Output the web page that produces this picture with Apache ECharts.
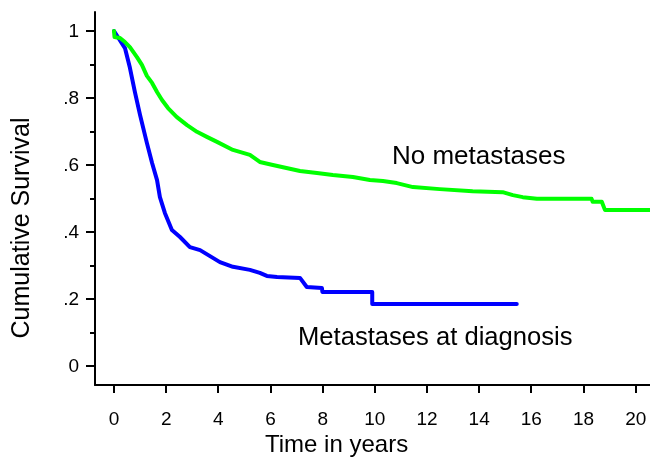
<!DOCTYPE html>
<html>
<head>
<meta charset="utf-8">
<script src="https://cdn.jsdelivr.net/npm/echarts@6/dist/echarts.min.js"></script>
<style>html,body{margin:0;padding:0;background:#fff}#c{width:650px;height:460px}</style>
</head>
<body>
<div id="c"></div>
<script>
// Tick values and labels
const xTicks = [0, 2, 4, 6, 8, 10, 12, 14, 16, 18, 20];
const xTickLabels = ['0', '2', '4', '6', '8', '10', '12', '14', '16', '18', '20'];
const yTicks = [0, 0.2, 0.4, 0.6, 0.8, 1];
const yTickLabels = ['0', '.2', '.4', '.6', '.8', '1'];
const yMinorTicks = [0.1, 0.3, 0.5, 0.7, 0.9];

// Series names
const seriesNames = ['Metastases at diagnosis', 'No metastases'];

// Cumulative survival: [time in years, survival]
const metastasesAtDiagnosis = [
  [0, 1], [0.42, 0.949], [0.61, 0.89], [0.8, 0.818], [1.0, 0.749], [1.26, 0.666],
  [1.46, 0.606], [1.65, 0.555], [1.76, 0.504], [1.95, 0.457], [2.22, 0.406],
  [2.53, 0.385], [2.91, 0.355], [3.3, 0.346], [3.68, 0.328], [4.06, 0.31],
  [4.56, 0.296], [5.21, 0.287], [5.59, 0.278], [5.86, 0.269], [6.25, 0.266],
  [7.13, 0.263], [7.39, 0.236], [7.97, 0.233], [7.99, 0.221], [9.9, 0.221],
  [9.9, 0.185], [15.44, 0.185]
];
const noMetastases = [
  [0, 1.0], [0.02, 0.982], [0.23, 0.979], [0.42, 0.967], [0.61, 0.952], [0.88, 0.922],
  [1.07, 0.899], [1.26, 0.866], [1.46, 0.845], [1.65, 0.818], [1.84, 0.794],
  [2.07, 0.77], [2.41, 0.743], [2.8, 0.719], [3.18, 0.699], [3.56, 0.684],
  [3.95, 0.669], [4.56, 0.645], [5.21, 0.63], [5.59, 0.609], [6.09, 0.6],
  [7.13, 0.582], [7.78, 0.576], [8.39, 0.57], [9.16, 0.564], [9.81, 0.555],
  [10.31, 0.552], [10.84, 0.546], [11.46, 0.534], [12.49, 0.528], [13.75, 0.522],
  [14.9, 0.519], [15.29, 0.51], [15.67, 0.504], [16.21, 0.499], [18.31, 0.499],
  [18.35, 0.49], [18.7, 0.49], [18.82, 0.466], [20.6, 0.466]
];

const FONT = 'Liberation Sans, Arial, sans-serif';
// plot frame: axis lines at x=95 / y=385; time 0 at x=114, 20 at x=635.7; S=0 at y=366, S=1 at y=31
const PX_PER_YEAR = 26.085, PX_PER_UNIT = 335, PAD = 19;
const XMIN = -PAD / PX_PER_YEAR, XMAX = (650 - 95 - PAD) / PX_PER_YEAR;
const YMIN = -PAD / PX_PER_UNIT, YMAX = 1 + PAD / PX_PER_UNIT;
const hidden = {show: false};

const textGraphics = [
  {type: 'text', left: 392, top: 144, style: {text: seriesNames[1], font: '26px ' + FONT, fill: '#000'}},
  {type: 'text', left: 298, top: 325, style: {text: seriesNames[0], font: '25.6px ' + FONT, fill: '#000'}},
  {type: 'text', left: 265, top: 433, style: {text: 'Time in years', font: '24px ' + FONT, fill: '#000'}},
  {type: 'text', x: 22, y: 228, rotation: Math.PI / 2,
    style: {text: 'Cumulative Survival', font: '25px ' + FONT, fill: '#000', align: 'center', verticalAlign: 'middle'}}
];

const chart = echarts.init(document.getElementById('c'), null, {renderer: 'canvas'});
chart.setOption({
  animation: false,
  backgroundColor: '#fff',
  grid: {left: 95, top: 12, width: 650 - 95, height: 385 - 12, containLabel: false, outerBoundsMode: 'none'},
  xAxis: {
    type: 'value', min: XMIN, max: XMAX, position: 'bottom',
    splitLine: hidden, axisTick: hidden, axisLabel: hidden,
    axisLine: {show: true, onZero: false, lineStyle: {color: '#000', width: 2}}
  },
  yAxis: {
    type: 'value', min: YMIN, max: YMAX, position: 'left',
    splitLine: hidden, axisTick: hidden, axisLabel: hidden,
    axisLine: {show: true, onZero: false, lineStyle: {color: '#000', width: 2}}
  },
  series: [{
    name: seriesNames[0], type: 'line', data: metastasesAtDiagnosis,
    showSymbol: false, clip: true,
    lineStyle: {color: '#0000ff', width: 4, cap: 'round', join: 'round'}
  }, {
    name: seriesNames[1], type: 'line', data: noMetastases,
    showSymbol: false, clip: true,
    lineStyle: {color: '#00ff00', width: 4, cap: 'round', join: 'round'}
  }],
  graphic: textGraphics
});

// Ticks and tick labels placed through the chart's own scales
const toPx = (pt) => chart.convertToPixel({xAxisIndex: 0, yAxisIndex: 0}, pt);
const tickLine = (x1, y1, x2, y2) => ({type: 'line', silent: true, z: 100,
  shape: {x1: x1, y1: y1, x2: x2, y2: y2}, style: {stroke: '#000', lineWidth: 2}});
const extra = [];
xTicks.forEach((v, i) => {
  const p = toPx([v, YMIN]);
  const x = Math.round(p[0]), y = Math.round(p[1]);
  extra.push(tickLine(x, y, x, y + 8));
  extra.push({type: 'text', x: p[0], y: y + 25,
    style: {text: xTickLabels[i], font: '19px ' + FONT, fill: '#000', align: 'center', verticalAlign: 'top'}});
});
yTicks.forEach((v, i) => {
  const p = toPx([XMIN, v]);
  const x = Math.round(p[0]), y = Math.round(p[1]);
  extra.push(tickLine(x - 9, y, x, y));
  extra.push({type: 'text', x: x - 16, y: p[1] + 1,
    style: {text: yTickLabels[i], font: '19px ' + FONT, fill: '#000', align: 'right', verticalAlign: 'middle'}});
});
yMinorTicks.forEach(v => {
  const p = toPx([XMIN, v]);
  const x = Math.round(p[0]), y = Math.round(p[1]);
  extra.push(tickLine(x - 5, y, x, y));
});
chart.setOption({graphic: textGraphics.concat(extra)});
</script>
</body>
</html>
